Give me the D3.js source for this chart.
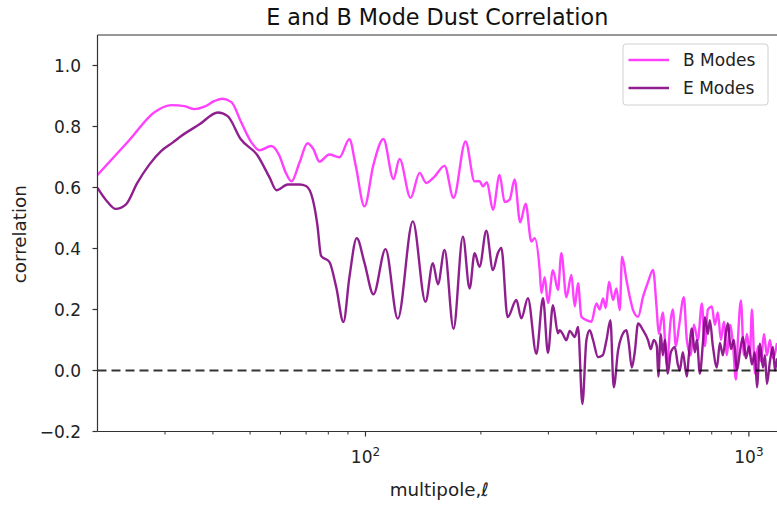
<!DOCTYPE html>
<html>
<head>
<meta charset="utf-8">
<script src="https://cdn.jsdelivr.net/npm/d3@7"></script>
<style>
  html, body { margin: 0; padding: 0; background: #fff; }
  svg { display: block; font-family: "DejaVu Sans", sans-serif; }
</style>
</head>
<body>
<div id="chart"></div>
<script>
// multipole values and correlation
const bEll = [20, 24.2, 28.1, 31.2, 33.7, 35.8, 38.0, 40.3, 42.3, 44.7, 47.4, 50.4, 52.9, 56.8, 59.6, 61.8, 64.1,
  67.3, 70.6, 73.2, 75.8, 80.5, 85.5, 90.8, 94.2, 99.4, 104.9, 111.4, 118.3, 122.7, 131.1, 138.4, 144.0, 151.4,
  160.8, 169.7, 182.4, 192.6, 198.4, 202.4, 207.4, 215.0, 223.8, 230.7, 237.7, 244.9, 253.2, 261.7, 270.8, 276.3,
  284.7, 287.6, 293.4, 299.2, 308.3, 317.7, 324.3, 334.2, 344.4, 351.4, 358.4, 365.7, 376.9, 388.5, 400.3, 408.3,
  416.5, 423.3, 431.8, 442.3, 451.4, 460.5, 466.9, 479.4, 489.0, 498.8, 514.1, 529.7, 546.0, 562.5, 574.2, 582.2,
  596.4, 610.9, 625.8, 633.3, 644.8, 656.6, 676.6, 688.9, 705.7, 718.6, 736.1, 754.0, 767.7, 781.7, 800.7, 815.2,
  830.1, 845.2, 860.6, 876.4, 892.2, 908.4, 925.0, 936.2, 953.2, 970.5, 988.3, 1006.2, 1018.4, 1036.9, 1055.8,
  1075.0, 1094.6, 1114.7, 1134.8, 1155.5, 1184];
const bCorr = [0.641, 0.755, 0.846, 0.870, 0.867, 0.857, 0.865, 0.883, 0.891, 0.880, 0.814, 0.748, 0.722, 0.736,
  0.705, 0.652, 0.620, 0.682, 0.745, 0.725, 0.685, 0.708, 0.699, 0.758, 0.675, 0.538, 0.675, 0.759, 0.628, 0.694,
  0.566, 0.648, 0.615, 0.636, 0.671, 0.566, 0.751, 0.620, 0.621, 0.604, 0.617, 0.527, 0.641, 0.552, 0.560, 0.626,
  0.486, 0.547, 0.423, 0.434, 0.329, 0.254, 0.306, 0.221, 0.329, 0.264, 0.385, 0.240, 0.313, 0.210, 0.286, 0.176,
  0.165, 0.160, 0.220, 0.200, 0.236, 0.205, 0.291, 0.231, 0.269, 0.198, 0.373, 0.297, 0.242, 0.198, 0.176, 0.242,
  0.291, 0.330, 0.210, 0.120, 0.190, 0.020, 0.170, 0.200, 0.080, 0.140, 0.240, 0.100, 0.050, 0.150, 0.100, 0.220,
  0.080, 0.200, 0.210, 0.150, 0.190, 0.100, 0.160, 0.050, 0.150, 0.090, -0.030, 0.100, 0.230, 0.050, 0.120, 0.050,
  0.200, -0.010, 0.080, 0.030, 0.120, 0.050, 0.100, 0.040, 0.090];

const eEll = [20, 21.2, 22.3, 23.7, 25.4, 27.3, 29.3, 31.4, 33.0, 36.9, 41.2, 43.7, 47.3, 52.3, 56.2, 58.6, 62.7,
  67.3, 70.0, 72.9, 74.9, 76.6, 80.5, 83.9, 87.6, 90.8, 94.9, 99.4, 104.9, 112.8, 121.4, 132.9, 143.4, 149.9, 154.5,
  160.8, 169.7, 179.5, 186.9, 192.6, 198.4, 206.6, 215.0, 221.5, 226.1, 234.8, 247.5, 255.0, 265.3, 279.1, 290.4,
  299.2, 308.3, 317.7, 321.0, 326.8, 334.2, 340.9, 351.4, 358.4, 367.9, 376.9, 384.5, 392.2, 404.1, 415.7, 425.1,
  435.4, 444.1, 455.9, 465.2, 479.4, 486.1, 494.9, 503.9, 514.1, 529.7, 546.0, 554.8, 564.9, 575.3, 580.5, 589.2,
  596.4, 603.6, 614.6, 625.8, 641.0, 652.7, 660.5, 672.5, 688.9, 697.3, 710.0, 722.9, 731.7, 745.0, 758.6, 767.7,
  781.7, 791.1, 805.5, 825.2, 840.2, 855.5, 871.0, 881.6, 897.6, 913.9, 930.7, 947.5, 964.7, 982.3, 1000.3, 1018.4,
  1036.9, 1049.6, 1068.6, 1088.1, 1101.2, 1114.7, 1134.8, 1155.5, 1169.4, 1184];
const eCorr = [0.599, 0.554, 0.530, 0.544, 0.615, 0.675, 0.719, 0.747, 0.768, 0.807, 0.846, 0.834, 0.758, 0.705,
  0.633, 0.591, 0.610, 0.610, 0.605, 0.560, 0.478, 0.376, 0.356, 0.273, 0.159, 0.306, 0.434, 0.353, 0.250, 0.398,
  0.170, 0.489, 0.225, 0.352, 0.283, 0.395, 0.137, 0.439, 0.269, 0.385, 0.340, 0.458, 0.329, 0.385, 0.402, 0.175,
  0.231, 0.171, 0.237, 0.055, 0.237, 0.058, 0.214, 0.122, 0.132, 0.120, 0.099, 0.130, 0.110, 0.143, -0.110, 0.099,
  0.132, 0.100, 0.044, 0.050, 0.099, 0.165, -0.055, 0.066, 0.110, 0.132, 0.090, 0.010, 0.060, 0.154, 0.132, 0.099,
  0.070, 0.100, 0.080, -0.020, 0.120, 0.050, 0.100, -0.010, 0.060, 0.076, 0.020, 0.000, 0.060, -0.020, 0.050, 0.138,
  0.060, 0.100, -0.010, 0.090, 0.175, 0.120, 0.165, 0.080, 0.010, 0.090, 0.050, 0.120, 0.155, 0.070, 0.100, 0.000,
  0.060, 0.110, 0.040, 0.080, 0.020, 0.060, -0.055, 0.088, 0.010, 0.050, -0.044, 0.030, 0.077, 0.000, 0.040];

const yTicks = [-0.2, 0.0, 0.2, 0.4, 0.6, 0.8, 1.0];
const xMajor = [100, 1000];
const xMinor = [30, 40, 50, 60, 70, 80, 90, 200, 300, 400, 500, 600, 700, 800, 900];
const series = [
  { name: 'B Modes', ell: bEll, corr: bCorr, color: 'magenta', opacity: 0.75 },
  { name: 'E Modes', ell: eEll, corr: eCorr, color: 'purple', opacity: 0.88 }
];

const W = 777, H = 506;
const m = { left: 97.5, right: 777, top: 35, bottom: 431.5 };

const svg = d3.select('#chart').append('svg')
  .attr('width', W).attr('height', H);

const x = d3.scaleLog().domain([20, 1184]).range([m.left, m.right]);
const y = d3.scaleLinear().domain([-0.2, 1.1]).range([m.bottom, m.top]);

svg.append('clipPath').attr('id', 'clip')
  .append('rect')
  .attr('x', m.left).attr('y', m.top)
  .attr('width', m.right - m.left).attr('height', m.bottom - m.top);

const plot = svg.append('g').attr('clip-path', 'url(#clip)');

const line = d3.line()
  .x(d => x(d[0]))
  .y(d => y(d[1]))
  .curve(d3.curveMonotoneX);

series.forEach(s => {
  plot.append('path')
    .datum(d3.zip(s.ell, s.corr))
    .attr('fill', 'none')
    .attr('stroke', s.color)
    .attr('stroke-opacity', s.opacity)
    .attr('stroke-width', 2.4)
    .attr('stroke-linejoin', 'round')
    .attr('d', line);
});

// zero line
plot.append('line')
  .attr('x1', m.left).attr('x2', m.right)
  .attr('y1', y(0)).attr('y2', y(0))
  .attr('stroke', '#000').attr('stroke-opacity', 0.8)
  .attr('stroke-width', 2)
  .attr('stroke-dasharray', '9,5');

// spines
const spine = '#333';
svg.append('line').attr('x1', m.left).attr('x2', m.left).attr('y1', m.top).attr('y2', m.bottom)
  .attr('stroke', spine).attr('stroke-width', 1.2);
svg.append('line').attr('x1', m.left).attr('x2', m.right).attr('y1', m.bottom).attr('y2', m.bottom)
  .attr('stroke', spine).attr('stroke-width', 1.2);
svg.append('line').attr('x1', m.left).attr('x2', m.right).attr('y1', m.top).attr('y2', m.top)
  .attr('stroke', spine).attr('stroke-width', 1.2);

// y axis
const yAxis = svg.append('g');
yTicks.forEach(t => {
  yAxis.append('line')
    .attr('x1', m.left - 5).attr('x2', m.left)
    .attr('y1', y(t)).attr('y2', y(t))
    .attr('stroke', spine).attr('stroke-width', 1.2);
  yAxis.append('text')
    .attr('x', 81).attr('y', y(t)).attr('dy', '0.36em')
    .attr('text-anchor', 'end')
    .attr('font-size', 17).attr('fill', '#222')
    .text(d3.format('.1f')(t));
});

// x axis
const xAxis = svg.append('g');
xMinor.forEach(t => {
  xAxis.append('line')
    .attr('x1', x(t)).attr('x2', x(t))
    .attr('y1', m.bottom).attr('y2', m.bottom + 3)
    .attr('stroke', spine).attr('stroke-width', 1);
});
xMajor.forEach(t => {
  xAxis.append('line')
    .attr('x1', x(t)).attr('x2', x(t))
    .attr('y1', m.bottom).attr('y2', m.bottom + 5)
    .attr('stroke', spine).attr('stroke-width', 1.2);
  const lbl = xAxis.append('text')
    .attr('x', x(t)).attr('y', 463)
    .attr('text-anchor', 'middle')
    .attr('font-size', 17).attr('fill', '#222');
  lbl.append('tspan').text('10');
  lbl.append('tspan').attr('dy', -7).attr('font-size', 12).text(Math.round(Math.log10(t)));
});

// labels
svg.append('text')
  .attr('x', (m.left + m.right) / 2 + 2).attr('y', 496)
  .attr('text-anchor', 'middle').attr('font-size', 18.3).attr('fill', '#222')
  .text('multipole,ℓ');

svg.append('text')
  .attr('transform', `translate(26,${(m.top + m.bottom) / 2 + 1}) rotate(-90)`)
  .attr('text-anchor', 'middle').attr('font-size', 18.3).attr('fill', '#222')
  .text('correlation');

svg.append('text')
  .attr('x', (m.left + m.right) / 2).attr('y', 25)
  .attr('text-anchor', 'middle').attr('font-size', 22.3).attr('fill', '#111')
  .text('E and B Mode Dust Correlation');

// legend
const legend = svg.append('g');
legend.append('rect')
  .attr('x', 623).attr('y', 44).attr('width', 145).attr('height', 61).attr('rx', 3)
  .attr('fill', '#fff').attr('fill-opacity', 0.8)
  .attr('stroke', '#d0d0d0').attr('stroke-width', 1);
series.forEach((s, i) => {
  const ly = 60 + i * 28;
  legend.append('line')
    .attr('x1', 628.5).attr('x2', 669).attr('y1', ly).attr('y2', ly)
    .attr('stroke', s.color).attr('stroke-opacity', s.opacity).attr('stroke-width', 2.4);
  legend.append('text')
    .attr('x', 683).attr('y', ly).attr('dy', '0.36em')
    .attr('font-size', 17).attr('fill', '#222')
    .text(s.name);
});
</script>
</body>
</html>
